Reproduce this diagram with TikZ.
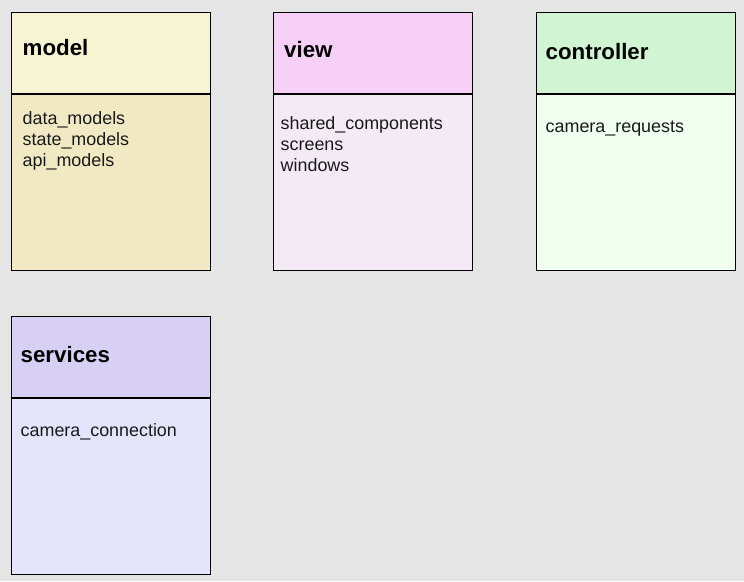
\documentclass[tikz,border=0pt]{standalone}
\usepackage{fontspec}
\setmainfont{Liberation Sans}
\definecolor{bg}{HTML}{E5E5E5}
\definecolor{mhead}{HTML}{F7F4D3}
\definecolor{mbody}{HTML}{F1E9C4}
\definecolor{vhead}{HTML}{F6D0F6}
\definecolor{vbody}{HTML}{F4EAF6}
\definecolor{chead}{HTML}{D1F5D3}
\definecolor{cbody}{HTML}{F1FFF1}
\definecolor{shead}{HTML}{D8D0F4}
\definecolor{sbody}{HTML}{E4E4FC}
\begin{document}
\begin{tikzpicture}[x=1pt,y=-1pt,
  headbox/.style={draw=black, line width=0.9pt, inner sep=0pt, outer sep=0pt, minimum width=199pt, minimum height=82pt, anchor=north west},
  bodybox/.style={draw=black, line width=0.9pt, inner sep=0pt, outer sep=0pt, minimum width=199pt, minimum height=176pt, anchor=north west},
  title/.style={anchor=base west, inner sep=0pt, font=\fontsize{22.3}{26}\selectfont\bfseries},
  item/.style={anchor=base west, inner sep=0pt, font=\fontsize{17.9}{21}\selectfont, text=black!90}]
\fill[bg] (0,0) rectangle (744,581);
\useasboundingbox (0,0) rectangle (744,581);
% model
\node[bodybox, fill=mbody] (mb) at (11,94) {};
\node[headbox, fill=mhead] (mh) at (11,12) {};
\draw[line width=1.6pt] (mh.south west) -- (mh.south east);
\node[title] (mt) at (22.5,55) {model};
\node[item] (m1) at (22.5,124) {data\_models};
\node[item] (m2) at (22.5,145) {state\_models};
\node[item] (m3) at (22.5,166) {api\_models};
% view
\node[bodybox, fill=vbody] (vb) at (273,94) {};
\node[headbox, fill=vhead] (vh) at (273,12) {};
\draw[line width=1.6pt] (vh.south west) -- (vh.south east);
\node[title] (vt) at (284,57) {view};
\node[item] (v1) at (280.5,129) {shared\_components};
\node[item] (v2) at (280.5,150) {screens};
\node[item] (v3) at (280.5,171) {windows};
% controller
\node[bodybox, fill=cbody] (cb) at (536,94) {};
\node[headbox, fill=chead] (ch) at (536,12) {};
\draw[line width=1.6pt] (ch.south west) -- (ch.south east);
\node[title] (ct) at (545.5,59.5) {controller};
\node[item] (c1) at (545.5,132) {camera\_requests};
% services
\node[bodybox, fill=sbody] (sb) at (11,398) {};
\node[headbox, fill=shead] (sh) at (11,316) {};
\draw[line width=1.6pt] (sh.south west) -- (sh.south east);
\node[title] (st) at (20.5,362.5) {services};
\node[item] (s1) at (20.5,436.5) {camera\_connection};
\end{tikzpicture}
\end{document}
